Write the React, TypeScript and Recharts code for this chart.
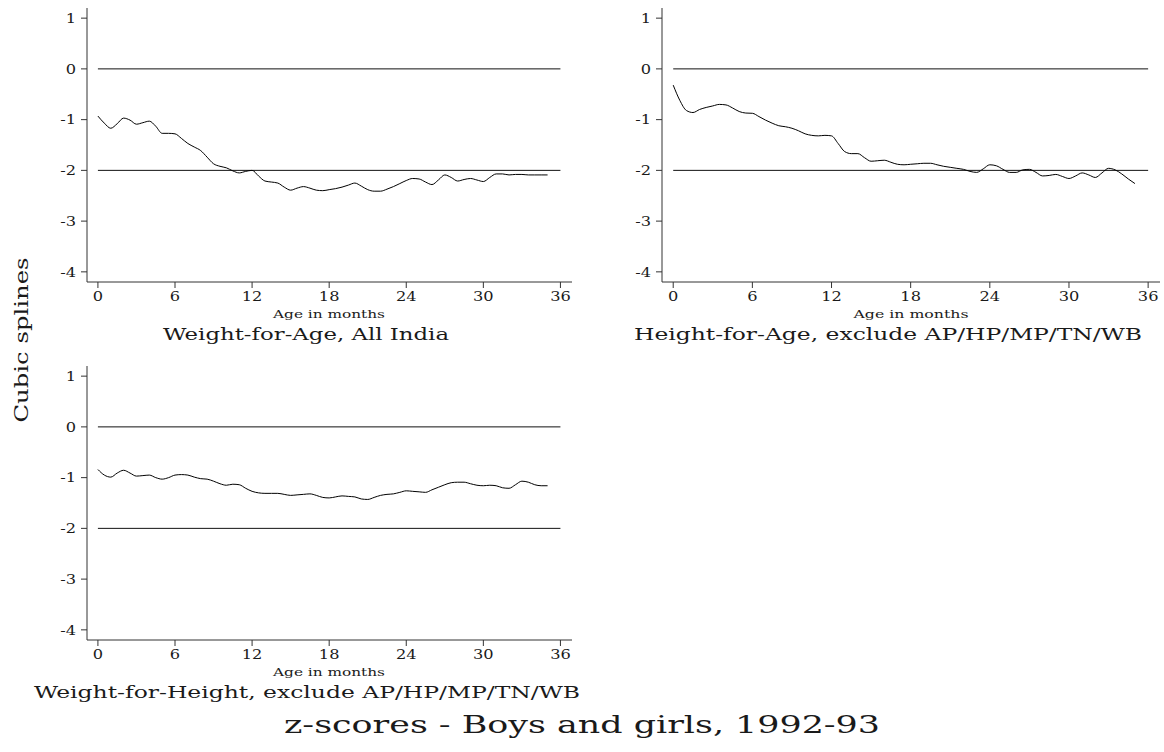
import { LineChart, Line, XAxis, YAxis, ReferenceLine } from 'recharts';

// age in months, half-month steps
const AGES = [
  0, 0.5, 1, 1.5, 2, 2.5, 3, 3.5, 4, 4.5, 5, 5.5, 6, 6.5, 7, 7.5, 8, 8.5, 9, 9.5,
  10, 10.5, 11, 11.5, 12, 12.5, 13, 13.5, 14, 14.5, 15, 15.5, 16, 16.5, 17, 17.5,
  18, 18.5, 19, 19.5, 20, 20.5, 21, 21.5, 22, 22.5, 23, 23.5, 24, 24.5, 25, 25.5,
  26, 26.5, 27, 27.5, 28, 28.5, 29, 29.5, 30, 30.5, 31, 31.5, 32, 32.5, 33, 33.5,
  34, 34.5, 35,
];

const WEIGHT_FOR_AGE = [
  -0.93, -1.07, -1.17, -1.08, -0.97, -1.01, -1.09, -1.06, -1.03, -1.13,
  -1.27, -1.27, -1.28, -1.37, -1.47, -1.54, -1.61, -1.74, -1.87, -1.92,
  -1.95, -2.01, -2.05, -2.02, -2.0, -2.11, -2.21, -2.23, -2.25, -2.33,
  -2.39, -2.35, -2.32, -2.35, -2.39, -2.4, -2.38, -2.36, -2.33, -2.29,
  -2.25, -2.31, -2.38, -2.41, -2.41, -2.37, -2.32, -2.26, -2.2, -2.16,
  -2.17, -2.23, -2.28, -2.19, -2.09, -2.14, -2.21, -2.18, -2.16, -2.19,
  -2.22, -2.14, -2.07, -2.07, -2.09, -2.08, -2.08, -2.09, -2.09, -2.09,
  -2.09,
];

const HEIGHT_FOR_AGE = [
  -0.32, -0.62, -0.82, -0.86, -0.8, -0.76, -0.73, -0.7, -0.71, -0.77,
  -0.84, -0.87, -0.875, -0.94, -1.01, -1.07, -1.12, -1.14, -1.17, -1.22,
  -1.28, -1.31, -1.32, -1.31, -1.32, -1.47, -1.63, -1.67, -1.67, -1.75,
  -1.82, -1.81, -1.8, -1.84, -1.88, -1.89, -1.88, -1.87, -1.86, -1.86,
  -1.89, -1.92, -1.94, -1.96, -1.98, -2.02, -2.04, -1.97, -1.89, -1.91,
  -1.98, -2.04, -2.04, -1.99, -1.98, -2.04, -2.11, -2.1, -2.08, -2.12,
  -2.16, -2.11, -2.05, -2.09, -2.14, -2.05, -1.96, -1.99, -2.07, -2.17,
  -2.26,
];

const WEIGHT_FOR_HEIGHT = [
  -0.84, -0.95, -0.99, -0.91, -0.855, -0.91, -0.97, -0.96, -0.95, -1.0,
  -1.03, -1.0, -0.95, -0.94, -0.95, -0.99, -1.02, -1.03, -1.07, -1.12,
  -1.15, -1.13, -1.14, -1.21, -1.27, -1.3, -1.31, -1.31, -1.31, -1.33,
  -1.35, -1.34, -1.33, -1.32, -1.35, -1.39, -1.4, -1.38, -1.36, -1.37,
  -1.38, -1.42, -1.43, -1.39, -1.35, -1.33, -1.32, -1.29, -1.26, -1.27,
  -1.28, -1.29, -1.24, -1.19, -1.14, -1.1, -1.09, -1.09, -1.12, -1.15,
  -1.16, -1.15, -1.16, -1.2, -1.21, -1.14, -1.07, -1.09, -1.14, -1.16,
  -1.16,
];

const X_TICKS = [0, 6, 12, 18, 24, 30, 36];
const Y_TICKS = [-4, -3, -2, -1, 0, 1];
const GUIDES = [0, -2];

const FONT = '"DejaVu Serif", serif';
const INK = '#1a1a1a';

function XTick(props: any) {
  const { x, y, payload } = props;
  return (
    <text
      transform={`translate(${x},${y}) scale(1.2,1)`}
      textAnchor="middle"
      dy="0.71em"
      fontSize={13.5}
      fontFamily={FONT}
      fill={INK}
    >
      {payload.value}
    </text>
  );
}

function YTick(props: any) {
  const { x, y, payload } = props;
  return (
    <text
      transform={`translate(${x},${y}) scale(1.2,1)`}
      textAnchor="end"
      dy="0.355em"
      fontSize={13.5}
      fontFamily={FONT}
      fill={INK}
    >
      {payload.value}
    </text>
  );
}

function Panel({ values, left, top, width, right }: { values: number[]; left: number; top: number; width: number; right: number }) {
  const rows = AGES.map((age, i) => ({ age, z: values[i] }));
  return (
    <div style={{ position: 'absolute', left, top }}>
      <LineChart width={width} height={320} data={rows} margin={{ top: 8, right, left: 0, bottom: 20 }} style={{ overflow: 'visible' }}>
        <XAxis
          dataKey="age"
          type="number"
          domain={[-0.85, 36.9]}
          ticks={X_TICKS}
          interval={0}
          allowDataOverflow
          tick={<XTick />}
          tickSize={6}
          tickMargin={3}
          height={18}
          stroke="#333"
        />
        <YAxis
          type="number"
          domain={[-4.2, 1.2]}
          ticks={Y_TICKS}
          interval={0}
          allowDataOverflow
          tick={<YTick />}
          tickSize={6}
          tickMargin={5}
          width={87}
          stroke="#333"
        />
        {GUIDES.map((g) => (
          <ReferenceLine key={g} segment={[{ x: 0, y: g }, { x: 36, y: g }]} stroke="#111" strokeWidth={1} />
        ))}
        <Line dataKey="z" type="monotone" stroke="#000" strokeWidth={1} dot={false} isAnimationActive={false} />
      </LineChart>
    </div>
  );
}

function Caption({ x, y, size, len, children }: { x: number; y: number; size: number; len: number; children: string }) {
  return (
    <text x={x} y={y} fontSize={size} fontFamily={FONT} fill={INK} textAnchor="middle" textLength={len} lengthAdjust="spacingAndGlyphs">
      {children}
    </text>
  );
}

export default function App() {
  return (
    <div style={{ position: 'absolute', left: 0, top: 0, width: 1164, height: 752, background: '#fff', overflow: 'hidden' }}>
      <Panel values={WEIGHT_FOR_AGE} left={0} top={0} width={600} right={28} />
      <Panel values={HEIGHT_FOR_AGE} left={575} top={0} width={589} right={4} />
      <Panel values={WEIGHT_FOR_HEIGHT} left={0} top={358} width={600} right={28} />
      <svg width={1164} height={752} style={{ position: 'absolute', left: 0, top: 0, pointerEvents: 'none' }}>
        <Caption x={329} y={318} size={11.5} len={112}>Age in months</Caption>
        <Caption x={911} y={318} size={11.5} len={115}>Age in months</Caption>
        <Caption x={329} y={676} size={11.5} len={112}>Age in months</Caption>
        <Caption x={306} y={340} size={17.5} len={286}>Weight-for-Age, All India</Caption>
        <Caption x={888} y={340} size={17.5} len={508}>Height-for-Age, exclude AP/HP/MP/TN/WB</Caption>
        <Caption x={307} y={698} size={17.5} len={546}>Weight-for-Height, exclude AP/HP/MP/TN/WB</Caption>
        <Caption x={582} y={733} size={23.5} len={596}>z-scores - Boys and girls, 1992-93</Caption>
        <g transform="translate(28,340) rotate(-90)">
          <Caption x={0} y={0} size={19} len={165}>Cubic splines</Caption>
        </g>
      </svg>
    </div>
  );
}
